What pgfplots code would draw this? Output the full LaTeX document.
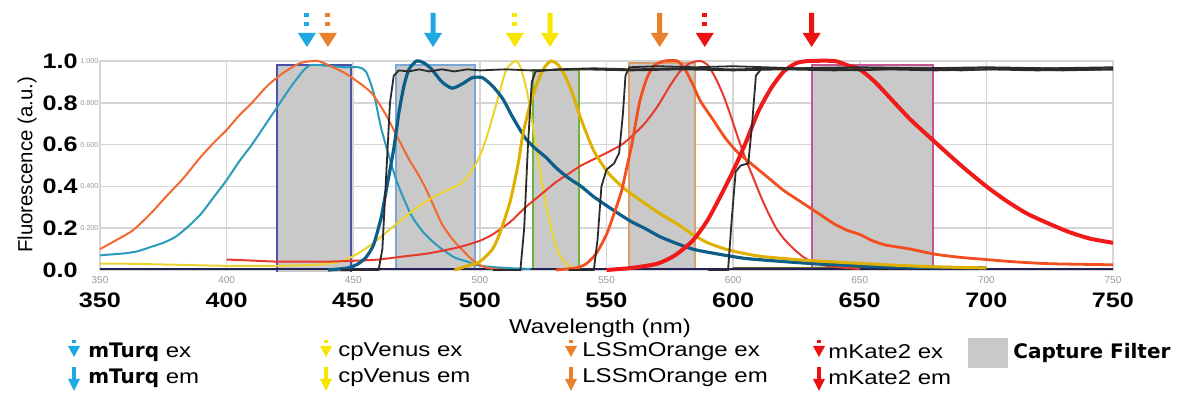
\documentclass[border=0pt]{standalone}
\usepackage{pgfplots}
\pgfplotsset{compat=1.18}
\usepackage{fontspec}
\setmainfont{Liberation Sans}
\newfontfamily\wide{Liberation Sans}[FakeStretch=1.2]
\newfontfamily\plainf{Liberation Sans}
\newfontfamily\dvs{DejaVu Sans}

\definecolor{mturqex}{HTML}{2A9BBA}
\definecolor{mturqem}{HTML}{0D5E89}
\definecolor{lssex}{HTML}{F1692F}
\definecolor{lssem}{HTML}{F24E1F}
\definecolor{venex}{HTML}{EBD22E}
\definecolor{venem}{HTML}{E0B000}
\definecolor{kateex}{HTML}{E8392C}
\definecolor{kateem}{HTML}{F01A1A}
\definecolor{blk}{HTML}{2B2B2B}
\definecolor{gridc}{HTML}{D5D5D5}
\definecolor{filtergray}{HTML}{C9C9C9}
\definecolor{fone}{HTML}{4B50A8}
\definecolor{ftwo}{HTML}{7AA8D6}
\definecolor{fthree}{HTML}{6DB33F}
\definecolor{ffour}{HTML}{D8A06E}
\definecolor{ffive}{HTML}{C55590}
\definecolor{arrcyan}{HTML}{1FA8E4}
\definecolor{arrorange}{HTML}{E8802E}
\definecolor{arryellow}{HTML}{F7E600}
\definecolor{arrred}{HTML}{EE1111}
\definecolor{smallgray}{HTML}{999999}

\newcommand{\solidarrow}[2]{%
  \fill[#2] (axis cs:#1,1.067) -- ++(-4.5pt,7pt) -- ++(3.25pt,0pt) -- ++(0pt,10pt) -- ++(2.5pt,0pt) -- ++(0pt,-10pt) -- ++(3.25pt,0pt) -- cycle;}
\newcommand{\dasharrow}[2]{%
  \fill[#2] (axis cs:#1,1.067) -- ++(-4.5pt,7pt) -- ++(9pt,0pt) -- cycle;
  \fill[#2] (axis cs:#1,1.067) ++(-1.25pt,10.5pt) rectangle ++(2.5pt,2pt);
  \fill[#2] (axis cs:#1,1.067) ++(-1.25pt,15pt) rectangle ++(2.5pt,2pt);}
\newcommand{\legsolid}[3]{%
  \fill[#3] (#1,#2) ++(-1pt,5.5pt) rectangle ++(2pt,-6pt);
  \fill[#3] (#1,#2) ++(-3pt,-0.4pt) -- ++(6pt,0pt) -- ++(-3pt,-6pt) -- cycle;}
\newcommand{\legdash}[3]{%
  \fill[#3] (#1,#2) ++(-1pt,6pt) rectangle ++(2pt,-1.5pt);
  \fill[#3] (#1,#2) ++(-3pt,3pt) -- ++(6pt,0pt) -- ++(-3pt,-5.5pt) -- cycle;}

\begin{document}
\begin{tikzpicture}
\begin{axis}[
  at={(0,0)}, anchor=south west,
  scale only axis, width=506.5pt, height=104.5pt,
  xmin=350, xmax=750, ymin=0, ymax=1,
  xtick={350,400,450,500,550,600,650,700,750},
  xticklabels={350,400,450,500,550,600,650,700,750},
  ytick={0,0.2,0.4,0.6,0.8,1.0},
  yticklabels={0.0,0.2,0.4,0.6,0.8,1.0},
  grid=major, major grid style={draw=gridc, line width=0.8pt},
  axis line style={draw=gridc, line width=0.8pt},
  tick style={draw=none},
  xticklabel style={font=\wide\bfseries\fontsize{10.5}{12}\selectfont, inner sep=0pt, anchor=north},
  xticklabel shift=11pt,
  yticklabel style={font=\wide\bfseries\fontsize{10.5}{12}\selectfont, inner sep=0pt, anchor=east},
  yticklabel shift=11pt,
  clip=false,
]
% small gray secondary labels
\pgfplotsinvokeforeach{350,400,450,500,550,600,650,700,750}{
  \node[font=\plainf\fontsize{5}{6}\selectfont, text=smallgray] at (axis cs:#1,-0.048) {#1};}
\node[anchor=east, font=\plainf\fontsize{3.6}{4}\selectfont, text=smallgray, inner sep=0pt] at (axis cs:349.5,1.0) {1.000};
\node[anchor=east, font=\plainf\fontsize{3.6}{4}\selectfont, text=smallgray, inner sep=0pt] at (axis cs:349.5,0.8) {0.800};
\node[anchor=east, font=\plainf\fontsize{3.6}{4}\selectfont, text=smallgray, inner sep=0pt] at (axis cs:349.5,0.6) {0.600};
\node[anchor=east, font=\plainf\fontsize{3.6}{4}\selectfont, text=smallgray, inner sep=0pt] at (axis cs:349.5,0.4) {0.400};
\node[anchor=east, font=\plainf\fontsize{3.6}{4}\selectfont, text=smallgray, inner sep=0pt] at (axis cs:349.5,0.2) {0.200};

% capture filters
\addplot[fill=filtergray, draw=fone, line width=1.1pt] coordinates {(420,-0.01)(420,0.98)(449,0.98)(449,-0.01)};
\addplot[fill=filtergray, draw=ftwo, line width=1.1pt] coordinates {(467,0)(467,0.98)(498,0.98)(498,0)};
\addplot[fill=filtergray, draw=fthree, line width=1.1pt] coordinates {(521,0)(521,0.955)(539,0.955)(539,0)};
\addplot[fill=filtergray, draw=ffour, line width=1.1pt] coordinates {(559,0)(559,0.99)(585,0.99)(585,0)};
\addplot[fill=filtergray, draw=ffive, line width=1.1pt] coordinates {(631,0)(631,0.98)(679,0.98)(679,0)};

% baseline
\addplot[draw=blk!80!blue, line width=0.9pt] coordinates {(350,0.004)(750,0.004)};
\addplot[draw=olive!70!black, line width=0.7pt] coordinates {(600,0.012)(700,0.012)};

% mTurq ex
\addplot[mturqex, line width=1pt, smooth, tension=0.4] coordinates {
(350,0.07)(355,0.075)(360,0.08)(365,0.09)(370,0.11)(375,0.13)(380,0.16)(385,0.21)(390,0.27)(395,0.35)(400,0.43)(405,0.52)(410,0.6)(415,0.69)(420,0.78)(425,0.87)(430,0.95)(433,0.98)(437,0.98)(442,0.975)(447,0.97)(452,0.97)(455,0.95)(458,0.85)(461,0.68)(464,0.55)(467,0.43)(470,0.34)(473,0.26)(477,0.19)(481,0.14)(485,0.1)(490,0.06)(495,0.04)(500,0.02)(510,0.01)(520,0.005)};
% LSSmOrange ex
\addplot[lssex, line width=1pt, smooth, tension=0.4] coordinates {
(350,0.1)(356,0.14)(363,0.19)(370,0.27)(376,0.35)(383,0.44)(389,0.53)(395,0.61)(400,0.67)(405,0.74)(410,0.8)(416,0.88)(422,0.94)(429,0.99)(436,1.0)(442,0.97)(447,0.94)(453,0.89)(457,0.85)(460,0.8)(463,0.74)(466,0.67)(469,0.6)(472,0.53)(476,0.45)(479,0.38)(482,0.3)(485,0.22)(489,0.15)(492,0.11)(496,0.06)(499,0.03)(503,0.01)(510,0.0)};
% cpVenus ex
\addplot[venex, line width=1pt, smooth, tension=0.4] coordinates {
(350,0.03)(360,0.03)(380,0.025)(400,0.02)(420,0.02)(435,0.025)(445,0.04)(452,0.08)(458,0.13)(465,0.2)(472,0.27)(479,0.33)(485,0.37)(492,0.41)(496,0.46)(499,0.52)(502,0.61)(505,0.73)(508,0.86)(510.5,0.96)(514,1.0)(516,0.97)(518.5,0.86)(520.5,0.72)(522.5,0.57)(524.5,0.42)(526.5,0.29)(529,0.16)(531.5,0.07)(535,0.02)(540,0.0)};
% mKate2 ex
\addplot[kateex, line width=1pt, smooth, tension=0.4] coordinates {
(400,0.05)(410,0.045)(420,0.04)(430,0.04)(440,0.04)(452,0.045)(460,0.05)(470,0.065)(480,0.08)(492,0.11)(500,0.14)(505,0.17)(512,0.23)(518,0.3)(524,0.36)(530,0.42)(535,0.46)(540,0.5)(545,0.53)(550,0.56)(556,0.6)(560,0.64)(565,0.7)(570,0.78)(575,0.88)(579,0.95)(583,0.99)(587,1.0)(590,0.98)(593,0.92)(596,0.84)(599,0.74)(602,0.63)(605,0.53)(608,0.44)(611,0.35)(614,0.27)(617,0.2)(620,0.15)(624,0.1)(628,0.06)(633,0.03)(640,0.015)(650,0.005)};
% mTurq em
\addplot[mturqem, line width=1.6pt, smooth, tension=0.4] coordinates {
(440,0.0)(448,0.01)(452,0.03)(455,0.06)(458,0.12)(461,0.25)(463,0.38)(466,0.58)(468,0.75)(470,0.88)(472,0.96)(475,1.0)(478,0.99)(481,0.96)(485,0.9)(489,0.87)(493,0.89)(497,0.92)(501,0.92)(505,0.88)(509,0.82)(513,0.73)(518,0.63)(522,0.58)(526,0.54)(530,0.49)(535,0.44)(540,0.4)(545,0.35)(551,0.3)(556,0.26)(560,0.23)(565,0.2)(571,0.16)(577,0.13)(584,0.1)(590,0.085)(597,0.07)(605,0.055)(615,0.045)(626,0.035)(640,0.025)(660,0.015)(700,0.01)};
% cpVenus em
\addplot[venem, line width=1.5pt, smooth, tension=0.4] coordinates {
(490,0.0)(495,0.02)(500,0.04)(505,0.1)(508,0.18)(512,0.33)(515,0.5)(517,0.65)(520,0.8)(522.5,0.89)(525,0.96)(528,1.0)(531,0.98)(534,0.92)(537,0.83)(540,0.72)(545,0.57)(551,0.46)(558,0.38)(565,0.32)(571,0.27)(578,0.22)(584,0.17)(590,0.13)(597,0.1)(604,0.08)(611,0.065)(620,0.055)(630,0.045)(645,0.035)(660,0.025)(680,0.015)(700,0.01)};
% LSSmOrange em
\addplot[lssem, line width=1.4pt, smooth, tension=0.4] coordinates {
(530,0.0)(538,0.01)(542,0.03)(546,0.08)(550,0.17)(553,0.27)(556,0.38)(558,0.49)(560,0.6)(563,0.8)(566,0.92)(569,0.98)(573,1.0)(578,1.0)(581,0.96)(584,0.89)(587,0.81)(592,0.72)(597,0.63)(602,0.56)(606,0.52)(610,0.48)(615,0.43)(620,0.38)(625,0.34)(630,0.3)(635,0.26)(640,0.22)(645,0.19)(650,0.17)(655,0.14)(660,0.12)(665,0.11)(670,0.1)(680,0.075)(690,0.06)(700,0.05)(710,0.04)(725,0.03)(750,0.025)};
% mKate2 em
\addplot[kateem, line width=2pt, smooth, tension=0.4] coordinates {
(550,0.0)(560,0.01)(570,0.03)(577,0.07)(584,0.14)(590,0.24)(597,0.4)(601,0.5)(605,0.61)(610,0.76)(615,0.87)(620,0.95)(625,0.99)(630,1.0)(640,1.0)(645,0.98)(650,0.96)(656,0.9)(663,0.81)(670,0.72)(679,0.62)(690,0.5)(700,0.4)(708,0.33)(716,0.27)(725,0.22)(733,0.18)(741,0.15)(750,0.13)};

% black dichroic curves
\addplot[blk, line width=0.9pt] coordinates {
(445,0)(460,0)(461.5,0.1)(463,0.45)(464.5,0.8)(466,0.93)(468,0.955)(472,0.95)(476,0.96)(480,0.95)(485,0.96)(490,0.95)(495,0.96)(500,0.955)(510,0.96)(520,0.955)(540,0.96)(560,0.955)(580,0.96)(600,0.955)(620,0.96)(640,0.955)(660,0.96)(680,0.955)(700,0.96)(720,0.955)(750,0.96)};
\addplot[blk, line width=0.9pt] coordinates {
(505,0)(516,0)(517.5,0.2)(519,0.6)(520.5,0.9)(522,0.95)(530,0.96)(545,0.965)(560,0.96)(580,0.965)(600,0.96)(625,0.965)(650,0.96)(675,0.965)(700,0.96)(725,0.965)(750,0.96)};
\addplot[blk, line width=0.9pt] coordinates {
(535,0)(545,0)(546.5,0.15)(548,0.4)(550,0.48)(553,0.51)(555,0.56)(556.5,0.75)(557.5,0.93)(559,0.97)(570,0.975)(585,0.97)(600,0.975)(625,0.965)(650,0.97)(675,0.965)(700,0.97)(725,0.965)(750,0.97)};
\addplot[blk, line width=0.9pt] coordinates {
(590,0)(598,0)(599.5,0.25)(601,0.47)(603,0.5)(606,0.51)(607.5,0.7)(609,0.93)(611,0.96)(630,0.965)(650,0.955)(670,0.965)(690,0.955)(710,0.965)(730,0.955)(750,0.96)};

% excitation / emission arrows
\dasharrow{431.7}{arrcyan}
\dasharrow{440}{arrorange}
\solidarrow{481.5}{arrcyan}
\dasharrow{513.8}{arryellow}
\solidarrow{527.7}{arryellow}
\solidarrow{571}{arrorange}
\dasharrow{588.8}{arrred}
\solidarrow{631}{arrred}
\end{axis}

% axis labels
\node[font=\wide\fontsize{10}{12}\selectfont] at (250pt,-29pt) {Wavelength (nm)};
\node[font=\plainf\fontsize{10.2}{12}\selectfont, rotate=90] at (-36.5pt,52.5pt) {Fluorescence (a.u.)};

% legend
\legdash{-13pt}{-41pt}{arrcyan}
\legsolid{-13pt}{-54pt}{arrcyan}
\node[anchor=west, inner sep=0pt, font=\wide\fontsize{10}{12}\selectfont] at (-6pt,-41pt) {{\dvs\bfseries mTurq} ex};
\node[anchor=west, inner sep=0pt, font=\wide\fontsize{10}{12}\selectfont] at (-6pt,-54pt) {{\dvs\bfseries mTurq} em};

\legdash{113pt}{-41pt}{arryellow}
\legsolid{113pt}{-54pt}{arryellow}
\node[anchor=west, inner sep=0pt, font=\wide\fontsize{10}{12}\selectfont] at (119pt,-41pt) {cpVenus ex};
\node[anchor=west, inner sep=0pt, font=\wide\fontsize{10}{12}\selectfont] at (119pt,-54pt) {cpVenus em};

\legdash{235.5pt}{-41pt}{arrorange}
\legsolid{235.5pt}{-54pt}{arrorange}
\node[anchor=west, inner sep=0pt, font=\wide\fontsize{10}{12}\selectfont] at (241pt,-41pt) {LSSmOrange ex};
\node[anchor=west, inner sep=0pt, font=\wide\fontsize{10}{12}\selectfont] at (241pt,-54pt) {LSSmOrange em};

\legdash{359.5pt}{-41pt}{arrred}
\legsolid{359.5pt}{-54pt}{arrred}
\node[anchor=west, inner sep=0pt, font=\wide\fontsize{10}{12}\selectfont] at (364pt,-41pt) {mKate2 ex};
\node[anchor=west, inner sep=0pt, font=\wide\fontsize{10}{12}\selectfont] at (364pt,-54pt) {mKate2 em};

\fill[filtergray] (434pt,-34pt) rectangle (454pt,-49pt);
\node[anchor=west, inner sep=0pt, font=\dvs\bfseries\fontsize{10}{12}\selectfont] at (456.5pt,-41.5pt) {Capture Filter};

\pgfresetboundingbox
\useasboundingbox (-50pt,-62pt) rectangle (539pt,135pt);
\end{tikzpicture}
\end{document}
